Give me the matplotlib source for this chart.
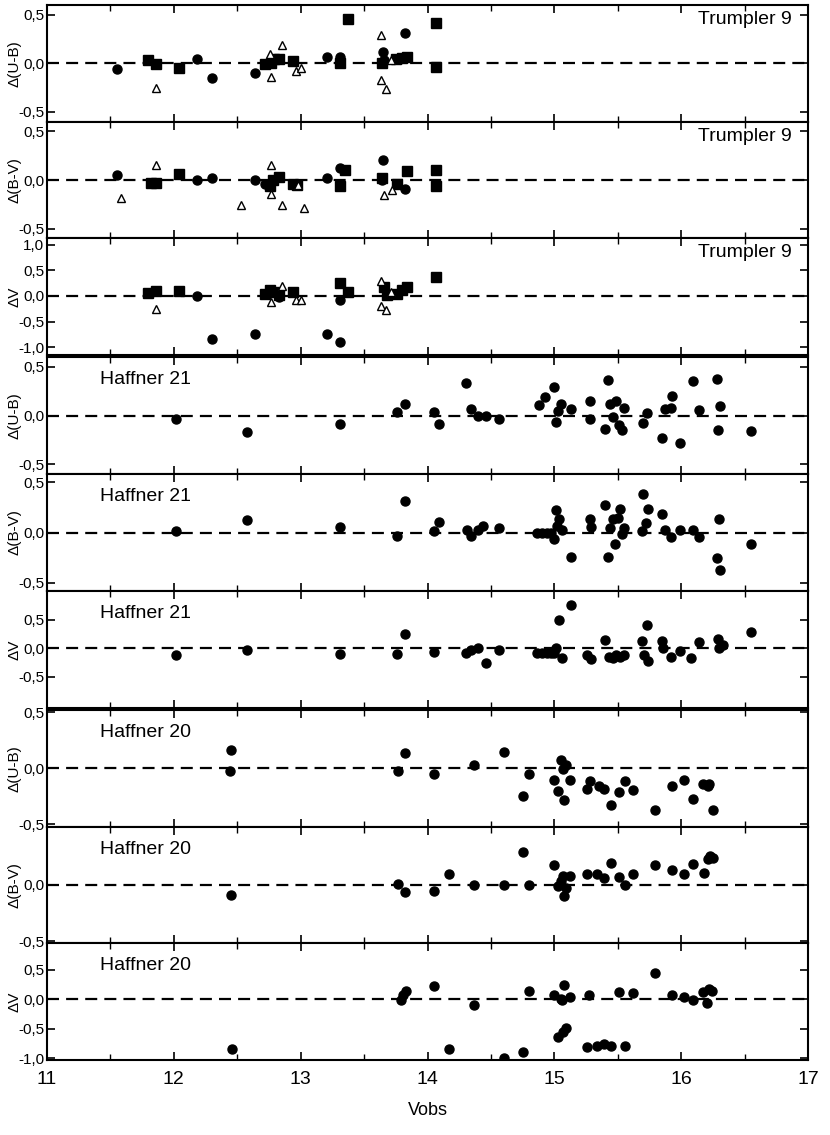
import matplotlib
matplotlib.use('Agg')
import matplotlib.pyplot as plt
from matplotlib.ticker import FuncFormatter, MultipleLocator

plt.rcParams['font.family'] = ['Liberation Sans', 'DejaVu Sans']

# --- Trumpler 9, Delta(U-B) ---
t9_ub_circ_x = [11.55, 12.18, 12.3, 12.64, 13.21, 13.31, 13.65, 13.66, 13.82]
t9_ub_circ_y = [-0.06, 0.04, -0.15, -0.10, 0.06, 0.07, 0.12, 0.03, 0.31]
t9_ub_sq_x = [11.8, 11.86, 12.04, 12.72, 12.77, 12.79, 12.83, 12.94, 13.31, 13.37,
              13.64, 13.75, 13.8, 13.84, 14.07, 14.07]
t9_ub_sq_y = [0.03, -0.01, -0.05, -0.01, 0.0, 0.04, 0.04, 0.02, 0.0, 0.46,
              0.0, 0.04, 0.05, 0.06, 0.41, -0.04]
t9_ub_tri_x = [11.86, 12.77, 12.76, 12.85, 12.96, 13.0, 13.63, 13.63, 13.67, 13.71]
t9_ub_tri_y = [-0.25, -0.14, 0.10, 0.19, -0.08, -0.05, 0.29, -0.17, -0.26, 0.03]

# --- Trumpler 9, Delta(B-V) ---
t9_bv_circ_x = [11.55, 12.18, 12.3, 12.64, 12.72, 13.21, 13.31, 13.65, 13.64, 13.82]
t9_bv_circ_y = [0.05, 0.0, 0.02, 0.0, -0.04, 0.02, 0.12, 0.21, 0.0, -0.09]
t9_bv_sq_x = [11.82, 11.86, 12.04, 12.76, 12.78, 12.83, 12.94, 12.97, 13.35, 13.31,
              13.64, 13.76, 13.84, 14.07, 14.07]
t9_bv_sq_y = [-0.03, -0.03, 0.06, -0.06, 0.0, 0.03, -0.04, -0.05, 0.1, -0.06,
              0.02, -0.04, 0.09, 0.1, -0.06]
t9_bv_tri_x = [11.58, 11.86, 12.53, 12.77, 12.77, 12.85, 12.98, 13.03, 13.66, 13.72]
t9_bv_tri_y = [-0.18, 0.15, -0.26, 0.15, -0.14, -0.26, -0.05, -0.29, -0.15, -0.10]

# --- Trumpler 9, Delta V ---
t9_v_circ_x = [12.18, 12.3, 12.64, 13.21, 13.31, 13.31, 12.83]
t9_v_circ_y = [0.0, -0.83, -0.74, -0.74, -0.9, -0.08, -0.02]
t9_v_sq_x = [11.8, 11.86, 12.04, 12.72, 12.76, 12.79, 12.83, 12.94, 13.31, 13.37,
             13.66, 13.68, 13.76, 13.8, 13.84, 14.07]
t9_v_sq_y = [0.06, 0.09, 0.1, 0.04, 0.12, 0.08, 0.01, 0.08, 0.26, 0.08,
             0.17, 0.01, 0.04, 0.12, 0.18, 0.36]
t9_v_tri_x = [11.86, 12.77, 12.85, 12.96, 13.0, 13.63, 13.63, 13.67, 13.71]
t9_v_tri_y = [-0.25, -0.12, 0.2, -0.08, -0.08, 0.29, -0.19, -0.27, 0.07]

# --- Haffner 21 ---
h21_ub_x = [12.02, 12.58, 13.31, 13.76, 13.82, 14.05, 14.09, 14.3, 14.34, 14.4,
            14.46, 14.56, 14.88, 14.93, 15.0, 15.01, 15.03, 15.05, 15.13, 15.28,
            15.28, 15.4, 15.42, 15.44, 15.46, 15.49, 15.51, 15.53, 15.55, 15.7,
            15.73, 15.85, 15.87, 15.92, 15.93, 15.99, 16.09, 16.14, 16.28, 16.31,
            16.29, 16.55]
h21_ub_y = [-0.04, -0.17, -0.09, 0.04, 0.12, 0.04, -0.09, 0.33, 0.07, 0.0,
            0.0, -0.04, 0.11, 0.19, 0.29, -0.07, 0.05, 0.12, 0.07, 0.15,
            -0.04, -0.14, 0.36, 0.12, -0.02, 0.15, -0.1, -0.15, 0.08, -0.08,
            0.03, -0.23, 0.07, 0.08, 0.2, -0.28, 0.35, 0.06, 0.37, 0.1,
            -0.15, -0.16]

h21_bv_x = [12.02, 12.58, 13.31, 13.76, 13.82, 14.05, 14.09, 14.31, 14.34, 14.4,
            14.44, 14.56, 14.86, 14.9, 14.94, 14.97, 15.0, 15.01, 15.02, 15.04,
            15.06, 15.13, 15.28, 15.29, 15.4, 15.42, 15.44, 15.46, 15.48, 15.5,
            15.52, 15.53, 15.55, 15.69, 15.7, 15.72, 15.74, 15.85, 15.87, 15.92,
            15.99, 16.09, 16.14, 16.28, 16.3, 16.31, 16.55]
h21_bv_y = [0.01, 0.12, 0.05, -0.03, 0.31, 0.01, 0.1, 0.02, -0.03, 0.02,
            0.06, 0.04, 0.0, 0.0, 0.0, 0.0, -0.06, 0.22, 0.06, 0.13,
            0.02, -0.24, 0.13, 0.05, 0.27, -0.24, 0.04, 0.13, -0.11, 0.14,
            0.23, -0.01, 0.04, 0.01, 0.38, 0.09, 0.23, 0.18, 0.02, -0.04,
            0.02, 0.02, -0.04, -0.25, 0.13, -0.37, -0.11]

h21_v_x = [12.02, 12.58, 13.31, 13.76, 13.82, 14.05, 14.3, 14.34, 14.4, 14.46,
           14.56, 14.86, 14.9, 14.94, 14.97, 15.0, 15.01, 15.04, 15.06, 15.13,
           15.26, 15.29, 15.4, 15.43, 15.46, 15.49, 15.52, 15.55, 15.69, 15.71,
           15.73, 15.74, 15.85, 15.86, 15.92, 15.99, 16.08, 16.14, 16.29, 16.3,
           16.33, 16.55]
h21_v_y = [-0.12, -0.04, -0.11, -0.1, 0.24, -0.07, -0.08, -0.03, 0.01, -0.27,
           -0.03, -0.09, -0.09, -0.09, -0.09, -0.09, 0.01, 0.5, -0.18, 0.76,
           -0.12, -0.2, 0.15, -0.15, -0.18, -0.12, -0.15, -0.12, 0.12, -0.12,
           0.4, -0.22, 0.12, 0.0, -0.15, -0.05, -0.18, 0.11, 0.16, 0.01,
           0.05, 0.29]

# --- Haffner 20 ---
h20_ub_x = [12.45, 12.44, 13.77, 13.82, 14.05, 14.37, 14.6, 14.75, 14.8, 15.0,
            15.03, 15.05, 15.07, 15.08, 15.09, 15.12, 15.26, 15.28, 15.35, 15.39,
            15.45, 15.51, 15.56, 15.62, 15.79, 15.93, 16.02, 16.09, 16.17, 16.21,
            16.22, 16.25]
h20_ub_y = [0.16, -0.02, -0.02, 0.14, -0.05, 0.03, 0.15, -0.25, -0.05, -0.1,
            -0.2, 0.07, -0.01, -0.28, 0.03, -0.1, -0.18, -0.11, -0.16, -0.18,
            -0.33, -0.21, -0.11, -0.19, -0.37, -0.16, -0.1, -0.27, -0.14, -0.16,
            -0.14, -0.37]

h20_bv_x = [12.45, 13.77, 13.82, 14.05, 14.17, 14.37, 14.6, 14.75, 14.8, 15.0,
            15.03, 15.05, 15.07, 15.08, 15.09, 15.12, 15.26, 15.34, 15.39, 15.45,
            15.51, 15.56, 15.62, 15.79, 15.93, 16.02, 16.09, 16.18, 16.21, 16.23,
            16.25]
h20_bv_y = [-0.09, 0.01, -0.06, -0.05, 0.1, 0.0, 0.0, 0.29, 0.0, 0.18,
            -0.01, 0.04, 0.08, -0.1, -0.03, 0.08, 0.1, 0.1, 0.06, 0.2,
            0.07, 0.0, 0.1, 0.18, 0.13, 0.1, 0.19, 0.11, 0.23, 0.26,
            0.24]

h20_v_x = [12.46, 13.79, 13.81, 13.83, 14.05, 14.17, 14.37, 14.6, 14.75, 14.8,
           15.0, 15.03, 15.05, 15.06, 15.07, 15.08, 15.09, 15.12, 15.26, 15.27,
           15.34, 15.39, 15.45, 15.51, 15.56, 15.62, 15.79, 15.93, 16.02, 16.09,
           16.17, 16.2, 16.22, 16.24]
h20_v_y = [-0.84, -0.02, 0.08, 0.14, 0.23, -0.84, -0.1, -0.99, -0.89, 0.14,
           0.08, -0.64, 0.0, -0.02, -0.55, 0.24, -0.48, 0.04, -0.81, 0.07,
           -0.79, -0.76, -0.79, 0.13, -0.79, 0.1, 0.45, 0.08, 0.04, -0.02,
           0.12, -0.06, 0.17, 0.14]

panels = [
    ('Trumpler 9', 'Δ(U-B)', (-0.6, 0.6), [0.5, 0.0, -0.5],
     [(t9_ub_circ_x, t9_ub_circ_y, 'o'), (t9_ub_sq_x, t9_ub_sq_y, 's'), (t9_ub_tri_x, t9_ub_tri_y, '^')]),
    ('Trumpler 9', 'Δ(B-V)', (-0.6, 0.6), [0.5, 0.0, -0.5],
     [(t9_bv_circ_x, t9_bv_circ_y, 'o'), (t9_bv_sq_x, t9_bv_sq_y, 's'), (t9_bv_tri_x, t9_bv_tri_y, '^')]),
    ('Trumpler 9', 'ΔV', (-1.15, 1.12), [1.0, 0.5, 0.0, -0.5, -1.0],
     [(t9_v_circ_x, t9_v_circ_y, 'o'), (t9_v_sq_x, t9_v_sq_y, 's'), (t9_v_tri_x, t9_v_tri_y, '^')]),
    ('Haffner 21', 'Δ(U-B)', (-0.6, 0.6), [0.5, 0.0, -0.5], [(h21_ub_x, h21_ub_y, 'o')]),
    ('Haffner 21', 'Δ(B-V)', (-0.58, 0.58), [0.5, 0.0, -0.5], [(h21_bv_x, h21_bv_y, 'o')]),
    ('Haffner 21', 'ΔV', (-1.05, 1.0), [0.5, 0.0, -0.5], [(h21_v_x, h21_v_y, 'o')]),
    ('Haffner 20', 'Δ(U-B)', (-0.52, 0.52), [0.5, 0.0, -0.5], [(h20_ub_x, h20_ub_y, 'o')]),
    ('Haffner 20', 'Δ(B-V)', (-0.52, 0.52), [0.0, -0.5], [(h20_bv_x, h20_bv_y, 'o')]),
    ('Haffner 20', 'ΔV', (-1.03, 0.95), [0.5, 0.0, -0.5, -1.0], [(h20_v_x, h20_v_y, 'o')]),
]

comma = FuncFormatter(lambda v, p: ('%.1f' % v).replace('.', ','))

W, H = 830, 1135
fig = plt.figure(figsize=(W / 100, H / 100), dpi=100)

# three stacked blocks of three panels, in pixels from the top
left_px, right_px = 47, 808
block_tops = [5, 357, 710]
block_bottoms = [355, 708, 1060]
axes = []
for bt, bb in zip(block_tops, block_bottoms):
    h = (bb - bt) / 3
    for k in range(3):
        top = bt + k * h
        ax = fig.add_axes([left_px / W, 1 - (top + h) / H, (right_px - left_px) / W, h / H])
        axes.append(ax)

for i, (ax, (name, ylab, ylim, yt, series)) in enumerate(zip(axes, panels)):
    ax.axhline(0, color='black', lw=1.6, ls=(0, (5.4, 3.2)), zorder=1)
    for xs, ys, m in series:
        if m == '^':
            ax.plot(xs, ys, ls='none', marker='^', ms=6, mfc='white', mec='black',
                    mew=1.0, zorder=3)
        elif m == 's':
            ax.plot(xs, ys, ls='none', marker='s', ms=6.5, color='black', zorder=2)
        else:
            ax.plot(xs, ys, ls='none', marker='o', ms=6.5, color='black', zorder=2)
    ax.set_xlim(11, 17)
    ax.set_ylim(*ylim)
    ax.set_yticks(yt)
    ax.yaxis.set_major_formatter(comma)
    ax.set_ylabel(ylab, fontsize=11)
    ax.yaxis.set_label_coords(-0.034, 0.5)
    if name == 'Trumpler 9':
        ax.text(0.979, 0.95, name, transform=ax.transAxes, ha='right', va='top', fontsize=14)
    else:
        ax.text(0.07, 0.88, name, transform=ax.transAxes, ha='left', va='top', fontsize=14)
    ax.set_xticks([11, 12, 13, 14, 15, 16, 17])
    ax.xaxis.set_minor_locator(MultipleLocator(0.5))
    ax.tick_params(direction='in', top=True, right=True, labelsize=11, length=6,
                   width=1.2, pad=2)
    ax.tick_params(which='minor', direction='in', top=True, length=4, width=1.0)
    if i < len(axes) - 1:
        ax.tick_params(axis='x', labelbottom=False)
    for s in ax.spines.values():
        s.set_linewidth(1.5)

axes[-1].xaxis.set_major_formatter(FuncFormatter(lambda v, p: '%d' % v))
axes[-1].tick_params(axis='x', labelsize=14, pad=8)
axes[-1].set_xlabel('Vobs', fontsize=13, labelpad=10)

fig.savefig('out.png', dpi=100)
